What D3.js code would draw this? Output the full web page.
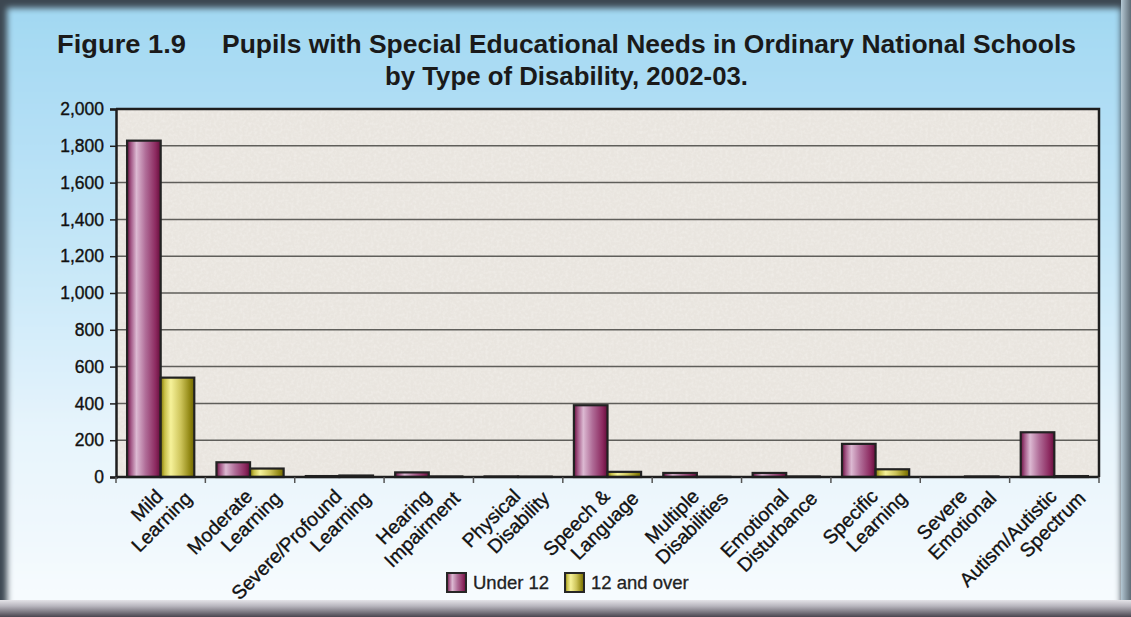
<!DOCTYPE html>
<html>
<head>
<meta charset="utf-8">
<script src="https://cdn.jsdelivr.net/npm/d3@7"></script>
<style>
  body { margin: 0; background: #fff; }
  svg { display: block; font-family: "Liberation Sans", Arial, sans-serif; }
</style>
</head>
<body>
<svg width="1131" height="617"></svg>
<script>
"use strict";

// data
var categories = [
  ["Mild", "Learning"],
  ["Moderate", "Learning"],
  ["Severe/Profound", "Learning"],
  ["Hearing", "Impairment"],
  ["Physical", "Disability"],
  ["Speech &", "Language"],
  ["Multiple", "Disabilities"],
  ["Emotional", "Disturbance"],
  ["Specific", "Learning"],
  ["Severe", "Emotional"],
  ["Autism/Autistic", "Spectrum"]
];
var under12 = [1828, 80, 5, 25, 3, 390, 22, 22, 180, 0, 243];
var over12  = [540, 46, 8, 3, 2, 28, 1, 3, 42, 3, 5];
var series = ["Under 12", "12 and over"];
var yTicks = [0, 200, 400, 600, 800, 1000, 1200, 1400, 1600, 1800, 2000];

var svg = d3.select("svg"),
    width = 1131,
    height = 617,
    margin = {left: 116, right: 32, top: 109, bottom: 140};

var defs = svg.append("defs");

function vGrad(id, stops) {
  var g = defs.append("linearGradient").attr("id", id)
      .attr("x1", 0).attr("y1", 0).attr("x2", 0).attr("y2", 1);
  stops.forEach(s => g.append("stop").attr("offset", s[0]).attr("stop-color", s[1]));
}
function hGrad(id, stops) {
  var g = defs.append("linearGradient").attr("id", id)
      .attr("x1", 0).attr("y1", 0).attr("x2", 1).attr("y2", 0);
  stops.forEach(s => g.append("stop").attr("offset", s[0]).attr("stop-color", s[1]));
}

vGrad("bg", [[0, "#a2d8f2"], [0.35, "#bfe4f7"], [0.7, "#e6f4fc"], [1, "#f7fbfe"]]);
vGrad("bottomBand", [[0, "#e4e3e8"], [0.35, "#b9b7bf"], [1, "#4a4650"]]);
hGrad("rightBand", [[0, "#b4c8d4"], [1, "#5d6a74"]]);
hGrad("purple", [[0, "#6a0d3e"], [0.12, "#a45a88"], [0.28, "#dcb9d2"], [0.55, "#b06d98"], [0.85, "#8c2a60"], [1, "#650c3a"]]);
hGrad("yellow", [[0, "#807600"], [0.12, "#c8c04a"], [0.3, "#f6f29a"], [0.6, "#cdc45a"], [0.88, "#8e8410"], [1, "#6f6600"]]);

var blur = defs.append("filter").attr("id", "soft")
    .attr("x", "-5%").attr("y", "-5%").attr("width", "110%").attr("height", "110%");
blur.append("feGaussianBlur").attr("stdDeviation", 3);

var tex = defs.append("filter").attr("id", "texture");
tex.append("feTurbulence").attr("type", "fractalNoise")
    .attr("baseFrequency", 0.35).attr("numOctaves", 2).attr("seed", 4).attr("result", "n");
tex.append("feColorMatrix").attr("in", "n").attr("type", "matrix")
    .attr("values", "0 0 0 0 0.93  0 0 0 0 0.91  0 0 0 0 0.88  0 0 0 -0.9 0.55")
    .attr("result", "c");
tex.append("feComposite").attr("in", "c").attr("in2", "SourceGraphic").attr("operator", "in");

// frame
svg.append("rect").attr("width", width).attr("height", height).attr("fill", "#3c4751");
svg.append("rect").attr("x", 7).attr("y", 8).attr("width", 1114).attr("height", 600)
    .attr("fill", "url(#bg)").attr("filter", "url(#soft)");
svg.append("rect").attr("x", 1121).attr("y", 0).attr("width", 10).attr("height", height)
    .attr("fill", "url(#rightBand)");
svg.append("rect").attr("x", 0).attr("y", 600).attr("width", width).attr("height", 17)
    .attr("fill", "url(#bottomBand)");

// title (condensed to the widths in the original)
var title = svg.append("g").attr("font-weight", "bold").attr("font-size", 26).attr("fill", "#1a1a1a");
title.append("text").attr("x", 57).attr("y", 53)
    .attr("textLength", 129).attr("lengthAdjust", "spacingAndGlyphs")
    .text("Figure 1.9");
title.append("text").attr("x", 222).attr("y", 53)
    .attr("textLength", 854).attr("lengthAdjust", "spacingAndGlyphs")
    .text("Pupils with Special Educational Needs in Ordinary National Schools");
title.append("text").attr("x", 385).attr("y", 85)
    .attr("textLength", 363).attr("lengthAdjust", "spacingAndGlyphs")
    .text("by Type of Disability, 2002-03.");

// scales
var x0 = d3.scaleBand()
    .domain(d3.range(categories.length))
    .range([margin.left, width - margin.right]);

var x1 = d3.scaleBand()
    .domain([0, 1])
    .range([0, x0.bandwidth()])
    .paddingOuter(0.33)
    .paddingInner(0);

var y = d3.scaleLinear()
    .domain([0, 2000])
    .range([height - margin.bottom, margin.top]);

var plotW = x0.range()[1] - x0.range()[0],
    plotH = y(0) - y(2000);

// plot background
svg.append("rect").attr("x", margin.left).attr("y", margin.top)
    .attr("width", plotW).attr("height", plotH).attr("fill", "#e9e5df");
svg.append("rect").attr("x", margin.left).attr("y", margin.top)
    .attr("width", plotW).attr("height", plotH).attr("fill", "#fff")
    .attr("filter", "url(#texture)");

// gridlines
svg.append("g").selectAll("line")
    .data(yTicks.filter(d => d > 0 && d < 2000))
    .enter().append("line")
    .attr("x1", margin.left).attr("x2", margin.left + plotW)
    .attr("y1", d => y(d)).attr("y2", d => y(d))
    .attr("stroke", "#5f5e5a").attr("stroke-width", 1.5);

// plot border (top, right)
svg.append("path")
    .attr("d", `M${margin.left},${y(2000)} H${margin.left + plotW} V${y(0)}`)
    .attr("fill", "none").attr("stroke", "#1e1e1e").attr("stroke-width", 2.5);

// bars
var rows = categories.map((c, i) => [under12[i], over12[i]]);
var groups = svg.append("g").selectAll("g")
    .data(rows)
    .enter().append("g")
    .attr("transform", (d, i) => "translate(" + x0(i) + ",0)");

groups.selectAll("rect")
    .data(d => d.map((v, k) => ({v: v, k: k})))
    .enter().append("rect")
    .attr("x", d => x1(d.k))
    .attr("y", d => y(d.v))
    .attr("width", x1.bandwidth())
    .attr("height", d => y(0) - y(d.v))
    .attr("fill", d => d.k === 0 ? "url(#purple)" : "url(#yellow)")
    .attr("stroke", "#222").attr("stroke-width", 2.2);

// y axis
var yAxis = svg.append("g")
    .attr("transform", "translate(" + margin.left + ",0)")
    .call(d3.axisLeft(y).tickValues(yTicks).tickSize(6).tickPadding(6)
      .tickFormat(d3.format(",")));
yAxis.select(".domain").attr("stroke", "#1e1e1e").attr("stroke-width", 2.5);
yAxis.selectAll(".tick line").attr("stroke", "#1e1e1e").attr("stroke-width", 1.5);
yAxis.selectAll("text").attr("font-size", 17.5).attr("fill", "#111")
    .attr("stroke", "#111").attr("stroke-width", 0.35)
    .attr("font-family", "Liberation Sans, Arial, sans-serif");

// x axis with ticks at the category boundaries
var xAxis = svg.append("g");
xAxis.append("line")
    .attr("x1", margin.left).attr("x2", margin.left + plotW)
    .attr("y1", y(0)).attr("y2", y(0))
    .attr("stroke", "#1e1e1e").attr("stroke-width", 2.5);
xAxis.selectAll("line.tk")
    .data(d3.range(categories.length + 1))
    .enter().append("line").attr("class", "tk")
    .attr("x1", i => i < categories.length ? x0(i) : x0(i - 1) + x0.bandwidth())
    .attr("x2", i => i < categories.length ? x0(i) : x0(i - 1) + x0.bandwidth())
    .attr("y1", y(0)).attr("y2", y(0) + 6)
    .attr("stroke", "#555").attr("stroke-width", 1.5);

var labels = svg.append("g").selectAll("g")
    .data(categories)
    .enter().append("g")
    .attr("transform", (d, i) => "translate(" + (x0(i) + x0.bandwidth() / 2) + "," + y(0) + ") rotate(-45)")
    .attr("font-size", 19.5).attr("fill", "#111")
    .attr("stroke", "#111").attr("stroke-width", 0.35);
labels.append("text").attr("text-anchor", "end")
    .attr("x", -12).attr("y", 17).text(d => d[0]);
labels.append("text").attr("text-anchor", "end")
    .attr("x", 7).attr("y", 39).text(d => d[1]);

// legend
var legend = svg.append("g").selectAll("g")
    .data(series)
    .enter().append("g")
    .attr("transform", (d, i) => "translate(" + (447 + i * 118) + ",573)");
legend.append("rect")
    .attr("width", 19).attr("height", 19)
    .attr("fill", (d, i) => i === 0 ? "url(#purple)" : "url(#yellow)")
    .attr("stroke", "#262626").attr("stroke-width", 2);
legend.append("text")
    .attr("x", 26).attr("y", 16)
    .attr("font-size", 18.5).attr("fill", "#222")
    .attr("stroke", "#222").attr("stroke-width", 0.3)
    .text(d => d);
</script>
</body>
</html>
